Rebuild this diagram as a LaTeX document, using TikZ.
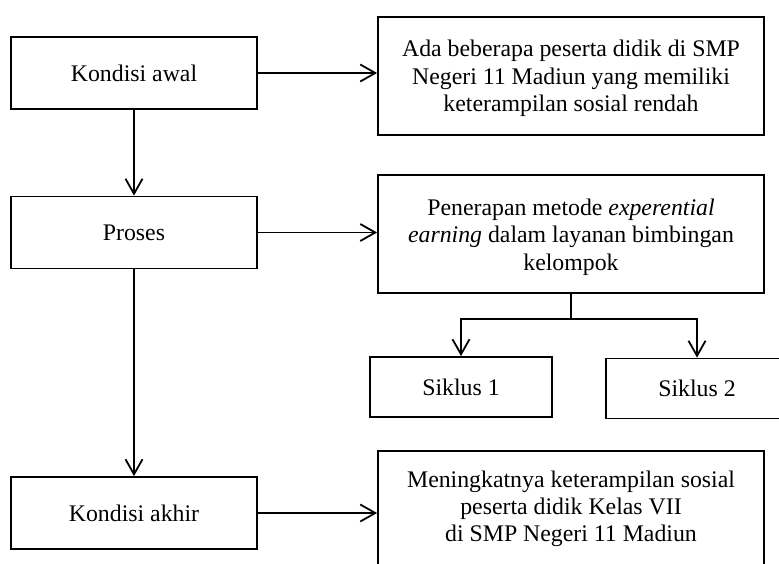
\documentclass[tikz,border=0pt]{standalone}
\usepackage{fontspec}
\setmainfont{Liberation Serif}
\usetikzlibrary{arrows.meta,positioning}

\begin{document}
\begin{tikzpicture}[
  x=0.5pt,y=-0.5pt,
  font=\fontsize{11.9}{13.75}\selectfont,
  box/.style={draw,line width=0.9pt,align=center,inner sep=0pt},
  side/.style={box,minimum width=123pt,minimum height=36pt},
  wide/.style={box,minimum width=193pt,minimum height=59pt},
  small/.style={box,minimum width=91pt,minimum height=30pt},
  arr/.style={-{Straight Barb[length=7.5pt,width=8.5pt]},line width=0.9pt}
]
\useasboundingbox (0,0) rectangle (779,563);
\clip (0,0) rectangle (779,563);
% kolom kiri
\node[side] (awal) at (134,73) {Kondisi awal};
\node[side] (proses) at (134,232.5) {Proses};
\node[side] (akhir) at (134,513) {Kondisi akhir};
% kolom kanan
\node[wide] (rendah) at (571,76) {\rule{0pt}{11pt}Ada beberapa peserta didik di SMP\\Negeri 11 Madiun yang memiliki\\keterampilan sosial rendah};
\node[wide] (metode) at (571,234) {\rule{0pt}{11.2pt}Penerapan metode \textit{experential}\\\textit{earning} dalam layanan bimbingan\\kelompok};
\node[small] (siklus1) at (461,387) {Siklus 1};
\node[small] (siklus2) at (697,388.5) {Siklus 2};
\node[box,minimum width=193pt,minimum height=58pt,font=\fontsize{11.9}{13.5}\selectfont] (meningkat) at (571,509) {Meningkatnya keterampilan sosial\\peserta didik Kelas VII\\di SMP Negeri 11 Madiun};
% panah
\draw[arr] (awal.east) -- (awal.east -| rendah.west);
\draw[arr] (proses.east) -- (proses.east -| metode.west);
\draw[arr] (akhir.east) -- (akhir.east -| meningkat.west);
\draw[arr] (awal) -- (proses);
\draw[arr] (proses) -- (akhir);
\draw[line width=0.9pt] (metode.south) -- ++(0,25) coordinate (cabang);
\draw[arr] (cabang) -| (siklus1.north);
\draw[arr] (cabang) -| (siklus2.north);
\end{tikzpicture}
\end{document}
